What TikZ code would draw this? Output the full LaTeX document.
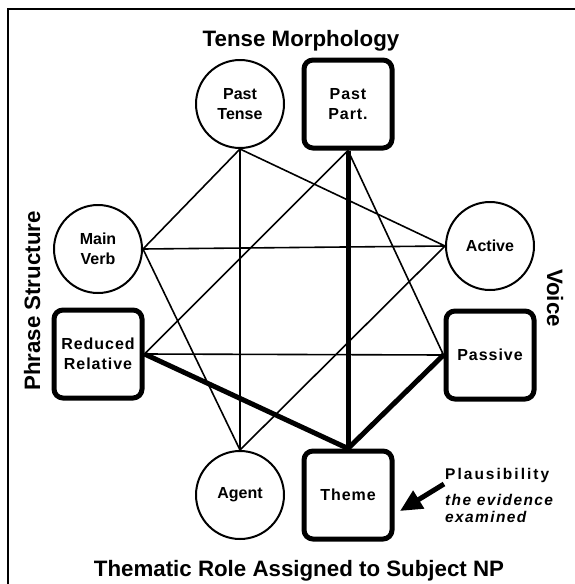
\documentclass[tikz,border=0pt]{standalone}
\usepackage{fontspec}
\setmainfont{Liberation Sans}
\usetikzlibrary{arrows.meta}
\tikzset{
  circnode/.style={circle,draw,line width=2pt,minimum size=88pt,inner sep=0pt,align=center,
    font=\fontsize{16}{20}\selectfont\bfseries},
  boxnode/.style={rectangle,draw,line width=5pt,rounded corners=9pt,minimum width=88pt,minimum height=88pt,
    inner sep=0pt,align=center,font=\fontsize{16}{20}\selectfont\bfseries\addfontfeature{LetterSpace=6}},
  thinlink/.style={line width=1.6pt},
  thicklink/.style={line width=5pt},
  dimlabel/.style={font=\fontsize{22.3}{25}\selectfont\bfseries,inner sep=0pt,anchor=base},
  notelabel/.style={inner sep=0pt,anchor=base west}
}
\begin{document}
\begin{tikzpicture}[x=1pt,y=-1pt]
\useasboundingbox (0,0) rectangle (575,584);
\clip (0,0) rectangle (575,584);
\draw[line width=2pt] (8,9) rectangle (600,610);

\node[circnode] (pt) at (240,104) {Past\\Tense};
\node[boxnode] (pp) at (348,104) {Past\\Part.};
\node[circnode] (mv) at (98,249) {Main\\Verb};
\node[boxnode] (rr) at (98,354) {Reduced\\Relative};
\node[circnode] (act) at (490,246) {Active};
\node[boxnode] (pas) at (490,355) {Passive};
\node[circnode] (ag) at (240,495) {Agent};
\node[boxnode] (th) at (348,495) {Theme};

% main verb interpretation
\draw[thinlink] (pt.south) -- (mv.east);
\draw[thinlink] (pt.south) -- (act.west);
\draw[thinlink] (pt.south) -- (ag.north);
\draw[thinlink] (mv.east) -- (act.west);
\draw[thinlink] (mv.east) -- (ag.north);
\draw[thinlink] (act.west) -- (ag.north);
% reduced relative interpretation
\draw[thinlink] (pp.south) -- (rr.east);
\draw[thinlink] (pp.south) -- (pas.west);
\draw[thinlink] (rr.east) -- (pas.west);
\draw[thicklink] (pp.south) -- (th.north);
\draw[thicklink] (rr.east) -- (th.north);
\draw[thicklink] (pas.west) -- (th.north);

\node[dimlabel] (tm) at (301,46) {Tense Morphology};
\node[dimlabel] (tr) at (299,576) {Thematic Role Assigned to Subject NP};
\node[dimlabel,rotate=90] (ps) at (40,301) {Phrase Structure};
\node[dimlabel,rotate=-90] (vo) at (547,298) {Voice};

\node[notelabel,font=\fontsize{15.5}{18}\selectfont\bfseries\addfontfeature{LetterSpace=13}] (pl) at (445,479) {Plausibility};
\node[notelabel,font=\fontsize{15.5}{18}\selectfont\bfseries\itshape\addfontfeature{LetterSpace=9}] (ev1) at (445,505) {the evidence};
\node[notelabel,font=\fontsize{15.5}{18}\selectfont\bfseries\itshape\addfontfeature{LetterSpace=9}] (ev2) at (445,522) {examined};

\coordinate (atail) at (444,484);
\coordinate (atip) at (400,511);
\draw[line width=5pt,-{Triangle[length=22pt,width=20pt]}] (atail) -- (atip);
\end{tikzpicture}
\end{document}
